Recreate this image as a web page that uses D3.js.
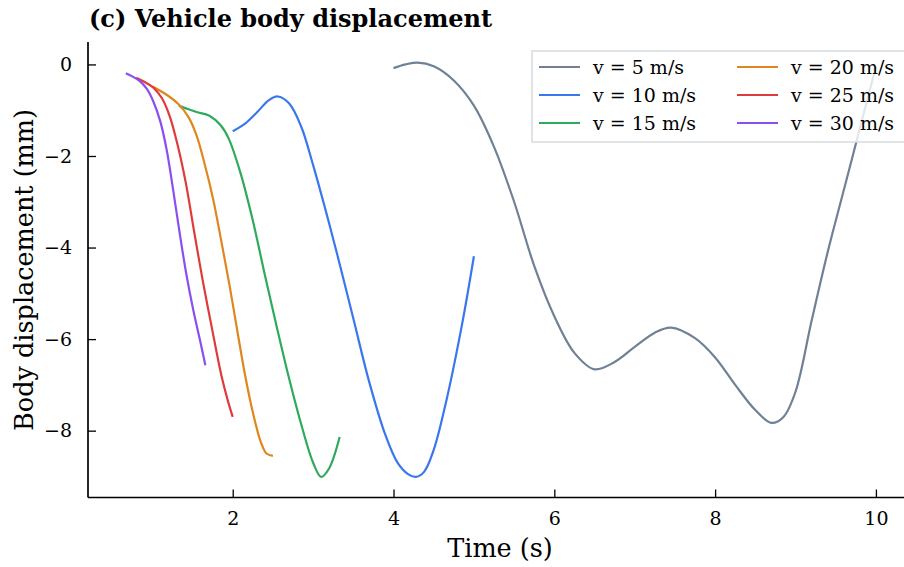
<!DOCTYPE html>
<html>
<head>
<meta charset="utf-8">
<script src="https://cdn.jsdelivr.net/npm/d3@7/dist/d3.min.js"></script>
<style>
  html, body { margin: 0; padding: 0; background: #fff; }
  svg { display: block; }
  text { font-family: "DejaVu Serif", serif; fill: #000; }
</style>
</head>
<body>
<svg id="chart" width="904" height="567"></svg>
<script>
// ---- data ----
const seriesNames = ["v = 5 m/s", "v = 10 m/s", "v = 15 m/s", "v = 20 m/s", "v = 25 m/s", "v = 30 m/s"];
const seriesColors = ["#708196", "#3a76ee", "#2eaa5c", "#e0861e", "#e03b3b", "#8b4ef0"];

const t5 = [4.0, 4.15, 4.3, 4.5, 4.75, 5.0, 5.25, 5.5, 5.75, 6.0, 6.25, 6.5, 6.75, 7.0, 7.25, 7.45, 7.75, 8.0, 8.25, 8.5, 8.7, 8.85, 9.0, 9.2, 9.4, 9.6, 9.8, 10.0];
const d5 = [-0.08, 0.0, 0.04, -0.04, -0.35, -0.9, -1.8, -3.0, -4.4, -5.5, -6.3, -6.66, -6.5, -6.17, -5.86, -5.75, -5.98, -6.4, -7.0, -7.55, -7.83, -7.7, -7.15, -5.6, -4.1, -2.75, -1.4, -0.05];

const t10 = [2.0, 2.15, 2.3, 2.45, 2.56, 2.7, 2.85, 3.0, 3.15, 3.3, 3.5, 3.7, 3.9, 4.05, 4.18, 4.28, 4.38, 4.5, 4.65, 4.85, 5.0];
const d10 = [-1.46, -1.3, -1.05, -0.78, -0.70, -0.85, -1.35, -2.2, -3.15, -4.15, -5.55, -6.95, -8.1, -8.7, -8.95, -9.01, -8.9, -8.42, -7.4, -5.7, -4.19];

const t15 = [1.33, 1.45, 1.55, 1.71, 1.85, 1.95, 2.1, 2.25, 2.4, 2.55, 2.7, 2.85, 3.0, 3.1, 3.2, 3.33];
const d15 = [-0.90, -0.98, -1.04, -1.12, -1.33, -1.62, -2.39, -3.41, -4.6, -5.75, -6.85, -7.85, -8.7, -9.01, -8.82, -8.14];

const t20 = [1.0, 1.15, 1.32, 1.45, 1.55, 1.65, 1.76, 1.86, 1.96, 2.06, 2.15, 2.25, 2.35, 2.42, 2.5];
const d20 = [-0.48, -0.63, -0.86, -1.15, -1.55, -2.17, -2.97, -3.88, -4.82, -5.85, -6.75, -7.6, -8.25, -8.5, -8.55];

const t25 = [0.8, 0.9, 1.01, 1.12, 1.22, 1.32, 1.42, 1.52, 1.63, 1.74, 1.86, 1.94, 2.0];
const d25 = [-0.29, -0.38, -0.5, -0.74, -1.15, -1.8, -2.62, -3.65, -4.75, -5.75, -6.8, -7.35, -7.7];

const t30 = [0.67, 0.75, 0.84, 0.93, 1.01, 1.1, 1.18, 1.26, 1.34, 1.42, 1.51, 1.59, 1.66];
const d30 = [-0.19, -0.26, -0.36, -0.53, -0.8, -1.25, -1.88, -2.75, -3.68, -4.55, -5.37, -6.0, -6.57];

const xTicks = [2, 4, 6, 8, 10];
const yTicks = [0, -2, -4, -6, -8];

const seriesT = [t5, t10, t15, t20, t25, t30];
const seriesD = [d5, d10, d15, d20, d25, d30];

// ---- layout ----
const svg = d3.select("#chart");
const x = d3.scaleLinear().domain([0.2, 10.47]).range([88, 913.7]);
const y = d3.scaleLinear().domain([-9.46, 0.49]).range([497.5, 42]);

const lineGen = d3.line().x(d => x(d[0])).y(d => y(d[1])).curve(d3.curveCatmullRom.alpha(0.5));

const plot = svg.append("g");
seriesT.forEach((ts, i) => {
  const pts = ts.map((t, j) => [t, seriesD[i][j]]);
  plot.append("path")
    .attr("d", lineGen(pts))
    .attr("fill", "none")
    .attr("stroke", seriesColors[i])
    .attr("stroke-width", 2.2)
    .attr("stroke-linejoin", "round")
    .attr("stroke-linecap", "butt");
});

// axes
const fmt = d => (d < 0 ? "\u2212" + Math.abs(d) : String(d));
const xAxis = d3.axisBottom(x).tickValues(xTicks).tickFormat(fmt).tickSizeInner(-8).tickSizeOuter(0).tickPadding(14);
const yAxis = d3.axisLeft(y).tickValues(yTicks).tickFormat(fmt).tickSizeInner(-8).tickSizeOuter(0).tickPadding(16);

const gx = svg.append("g").attr("transform", "translate(0,497.5)").call(xAxis);
const gy = svg.append("g").attr("transform", "translate(88,0)").call(yAxis);
[gx, gy].forEach(g => {
  g.select(".domain").attr("stroke", "#000").attr("stroke-width", 1.7);
  g.selectAll(".tick line").attr("stroke", "#000").attr("stroke-width", 1.3);
  g.selectAll(".tick text").attr("font-family", "DejaVu Serif").attr("font-size", 19).attr("fill", "#000");
});
gx.select(".domain").attr("d", "M88,0H904");
gy.select(".domain").attr("d", "M0,42V497.5");

// labels
svg.append("text").attr("x", 500).attr("y", 557).attr("text-anchor", "middle")
  .attr("font-size", 25.5).text("Time (s)");
svg.append("text").attr("transform", "translate(33,270) rotate(-90)").attr("text-anchor", "middle")
  .attr("font-size", 25.5).text("Body displacement (mm)");
svg.append("text").attr("x", 89).attr("y", 27).attr("font-weight", "bold")
  .attr("font-size", 24).text("(c) Vehicle body displacement");

// legend
const lg = svg.append("g");
lg.append("rect").attr("x", 532).attr("y", 51).attr("width", 380).attr("height", 91)
  .attr("fill", "#fff").attr("fill-opacity", 0.8).attr("stroke", "#d8dbe0").attr("stroke-width", 1.5);
seriesNames.forEach((name, i) => {
  const col = Math.floor(i / 3), row = i % 3;
  const lx = col === 0 ? 539 : 737;
  const ly = 67 + row * 28;
  lg.append("line").attr("x1", lx).attr("x2", lx + 41).attr("y1", ly).attr("y2", ly)
    .attr("stroke", seriesColors[i]).attr("stroke-width", 2.2);
  lg.append("text").attr("x", lx + 54).attr("y", ly).attr("dy", "0.35em")
    .attr("font-size", 19).text(name);
});
</script>
</body>
</html>
